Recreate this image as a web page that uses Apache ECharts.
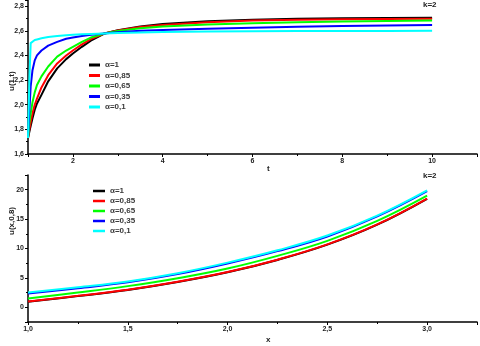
<!DOCTYPE html>
<html>
<head>
<meta charset="utf-8">
<script src="https://cdn.jsdelivr.net/npm/echarts@6/dist/echarts.min.js"></script>
<style>
  html, body { margin: 0; padding: 0; background: #fff; }
  #main { width: 480px; height: 346px; }
</style>
</head>
<body>
<div id="main"></div>
<script>
var names = ['α=1', 'α=0,85', 'α=0,65', 'α=0,35', 'α=0,1'];
var colors = ['#000000', '#ff0000', '#00ff00', '#0000ff', '#00ffff'];

// top chart: u(1,t)
var tVals = [1.0, 1.03, 1.06, 1.1, 1.15, 1.2, 1.3, 1.45, 1.65, 1.85, 2.0, 2.2, 2.4, 2.7, 3.0, 3.5, 4, 5, 6, 7, 8, 9, 10];
var top_a1   = [1.73, 1.78, 1.83, 1.89, 1.96, 2.01, 2.08, 2.19, 2.295, 2.37, 2.416, 2.47, 2.52, 2.578, 2.605, 2.635, 2.656, 2.678, 2.690, 2.697, 2.701, 2.704, 2.706];
var top_a085 = [1.73, 1.80, 1.86, 1.93, 2.00, 2.05, 2.14, 2.24, 2.335, 2.40, 2.44, 2.49, 2.533, 2.578, 2.603, 2.630, 2.648, 2.670, 2.683, 2.690, 2.694, 2.696, 2.697];
var top_a065 = [1.73, 1.85, 1.93, 2.02, 2.10, 2.16, 2.23, 2.31, 2.39, 2.44, 2.47, 2.51, 2.545, 2.578, 2.598, 2.620, 2.635, 2.652, 2.662, 2.670, 2.676, 2.680, 2.683];
var top_a035 = [1.73, 1.95, 2.15, 2.28, 2.36, 2.40, 2.44, 2.48, 2.51, 2.535, 2.546, 2.558, 2.568, 2.578, 2.589, 2.600, 2.607, 2.617, 2.625, 2.632, 2.638, 2.643, 2.647];
var top_a01  = [1.73, 2.2, 2.5, 2.515, 2.525, 2.53, 2.54, 2.55, 2.557, 2.563, 2.567, 2.572, 2.575, 2.578, 2.583, 2.587, 2.59, 2.594, 2.597, 2.598, 2.598, 2.599, 2.6];

// bottom chart: u(x,0,8)
var xVals = [1.0, 1.25, 1.5, 1.75, 2.0, 2.25, 2.5, 2.75, 3.0];
var bot_a1   = [0.95, 1.9, 2.95, 4.3, 5.95, 8.05, 10.65, 14.05, 18.45];
var bot_a085 = [1.0, 1.95, 3.0, 4.35, 6.0, 8.1, 10.7, 14.1, 18.5];
var bot_a065 = [1.5, 2.5, 3.6, 4.95, 6.6, 8.75, 11.3, 14.7, 19.0];
var bot_a035 = [2.35, 3.25, 4.25, 5.65, 7.45, 9.55, 12.05, 15.45, 19.75];
var bot_a01  = [2.5, 3.4, 4.4, 5.8, 7.6, 9.7, 12.2, 15.6, 19.9];

var topSets = [top_a1, top_a085, top_a065, top_a035, top_a01];
var botSets = [bot_a1, bot_a085, bot_a065, bot_a035, bot_a01];

function pairs(xs, ys) {
  var out = [];
  for (var i = 0; i < xs.length; i++) out.push([xs[i], ys[i]]);
  return out;
}
function comma1(v) { return v.toFixed(1).replace('.', ','); }

var tickFont = { fontSize: 7, fontWeight: 'bold', color: '#222', fontFamily: 'Liberation Sans' };

function axisCommon(extra) {
  var a = {
    type: 'value',
    axisLine: { show: true, onZero: false, lineStyle: { color: '#000', width: 1.5 } },
    axisTick: { show: true, inside: false, length: 3, lineStyle: { color: '#000', width: 1 } },
    minorTick: { show: true, splitNumber: 2, length: 2, lineStyle: { color: '#000' } },
    splitLine: { show: false }
  };
  for (var k in extra) a[k] = extra[k];
  return a;
}

var series = [];
for (var i = 0; i < 5; i++) {
  series.push({
    name: names[i], type: 'line', xAxisIndex: 0, yAxisIndex: 0,
    data: pairs(tVals, topSets[i]), showSymbol: false, smooth: false,
    lineStyle: { width: 2, color: colors[i], join: 'round' }, itemStyle: { color: colors[i] }
  });
}
for (var i = 0; i < 5; i++) {
  series.push({
    name: names[i], type: 'line', xAxisIndex: 1, yAxisIndex: 1,
    data: pairs(xVals, botSets[i]), showSymbol: false, smooth: 0.4,
    lineStyle: { width: 2, color: colors[i] }, itemStyle: { color: colors[i] }
  });
}

var legendText = { fontSize: 8, fontWeight: 'bold', color: '#3a3a3a', fontFamily: 'Liberation Sans', lineHeight: 10 };
var nameFont = { font: 'bold 8px "Liberation Sans"', fill: '#222' };

var option = {
  animation: false,
  grid: [
    { left: 28, right: 3, top: 0, height: 154 },
    { left: 28, right: 3, top: 175, height: 147 }
  ],
  xAxis: [
    axisCommon({ gridIndex: 0, min: 1, max: 11, splitNumber: 5,
      axisLabel: Object.assign({ margin: 4, showMinLabel: false, showMaxLabel: false }, tickFont) }),
    axisCommon({ gridIndex: 1, min: 1, max: 3.25, interval: 0.5,
      axisLabel: Object.assign({ margin: 4, showMinLabel: true, showMaxLabel: false, formatter: comma1 }, tickFont) })
  ],
  yAxis: [
    axisCommon({ gridIndex: 0, min: 1.6, max: 2.85, interval: 0.2,
      axisLabel: Object.assign({ margin: 4, showMinLabel: true, showMaxLabel: false, formatter: comma1 }, tickFont) }),
    axisCommon({ gridIndex: 1, min: -2.5, max: 22.5, splitNumber: 5,
      axisLabel: Object.assign({ margin: 4, showMinLabel: false, showMaxLabel: false }, tickFont) })
  ],
  legend: [
    { orient: 'vertical', left: 89, top: 60, padding: 0, itemGap: 0.5, itemWidth: 11, itemHeight: 3,
      icon: 'rect', data: names, textStyle: legendText, selectedMode: false },
    { orient: 'vertical', left: 93, top: 186, padding: 0, itemGap: 0, itemWidth: 12, itemHeight: 2.5,
      icon: 'rect', data: names, textStyle: legendText, selectedMode: false }
  ],
  graphic: [
    { type: 'text', left: 423, top: 1, style: Object.assign({ text: 'k=2' }, nameFont) },
    { type: 'text', left: 423, top: 172, style: Object.assign({ text: 'k=2' }, nameFont) },
    { type: 'text', x: 267, y: 165, style: Object.assign({ text: 't' }, nameFont) },
    { type: 'text', x: 266, y: 336, style: Object.assign({ text: 'x' }, nameFont) },
    { type: 'text', x: 8, y: 91, rotation: Math.PI / 2,
      style: Object.assign({ text: 'u(1,t)' }, nameFont) },
    { type: 'text', x: 8, y: 235, rotation: Math.PI / 2,
      style: Object.assign({ text: 'u(x,0,8)' }, nameFont) }
  ],
  series: series
};

var chart = echarts.init(document.getElementById('main'), null, { renderer: 'canvas' });
chart.setOption(option);
</script>
</body>
</html>
